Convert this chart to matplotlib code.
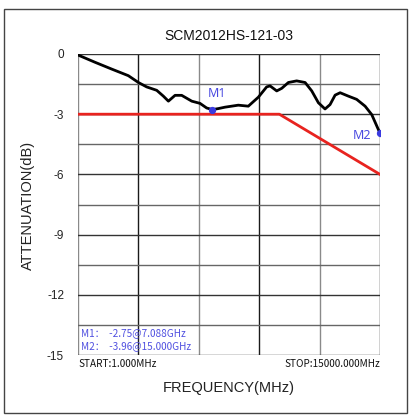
import matplotlib
matplotlib.use("Agg")
import matplotlib.pyplot as plt
from matplotlib.patches import Rectangle

plt.rcParams['font.family'] = ['Liberation Sans', 'DejaVu Sans']

title = "SCM2012HS-121-03"
freq_ghz = [0.0, 0.84, 1.67, 2.5, 3.0, 3.41, 3.91, 4.24, 4.49, 4.82, 5.15, 5.65, 6.06, 6.39,
            6.67, 6.97, 7.3, 7.96, 8.46, 8.96, 9.37, 9.54, 9.87, 10.12, 10.45, 10.86, 11.28,
            11.61, 11.94, 12.27, 12.52, 12.77, 13.02, 13.43, 13.84, 14.26, 14.59, 15.0]
atten_db = [-0.05, -0.41, -0.75, -1.08, -1.42, -1.64, -1.81, -2.1, -2.35, -2.06, -2.06, -2.35,
            -2.46, -2.69, -2.77, -2.72, -2.65, -2.55, -2.6, -2.15, -1.64, -1.59, -1.84, -1.71,
            -1.42, -1.34, -1.42, -1.84, -2.43, -2.74, -2.52, -2.05, -1.93, -2.1, -2.26, -2.6,
            -3.02, -3.95]
limit_freq = [0.0, 10.0, 15.0]
limit_db = [-3.0, -3.0, -6.0]
marker_names = ["M1", "M2"]
marker_freq = [6.67, 15.0]
marker_db = [-2.77, -3.96]
marker_text = ["M1：  -2.75@7.088GHz", "M2：  -3.96@15.000GHz"]
yticks = [0, -3, -6, -9, -12, -15]

fig = plt.figure(figsize=(4.12, 4.18), dpi=100)
fig.patches.append(Rectangle((4/412, 1-413/418), 403/412, 404/418, transform=fig.transFigure,
                             fill=False, edgecolor='#444444', linewidth=1.0))
ax = fig.add_axes([78/412, 1-355/418, 302/412, 301/418])
ax.set_xlim(0, 15)
ax.set_ylim(-15, 0)

for i, gx in enumerate([0, 3, 6, 9, 12, 15]):
    ax.axvline(gx, color='#8a8a8a' if i % 2 == 0 else '#1a1a1a', lw=1.0, zorder=1)
for i in range(11):
    gy = -1.5 * i
    ax.axhline(gy, color='#333333' if i % 2 == 0 else '#666666', lw=1.0, zorder=1)
for s in ax.spines.values():
    s.set_visible(False)

ax.plot(limit_freq, limit_db, color='#e8231f', lw=2.0, zorder=3)
ax.plot(freq_ghz, atten_db, color='black', lw=2.0, zorder=4, solid_capstyle='round',
        solid_joinstyle='round')
ax.scatter(marker_freq, marker_db, color='#3a3ae0', s=18, zorder=5)
ax.text(6.9, -2.3, marker_names[0], color='#4a4ae0', fontsize=9, ha='center', va='bottom',
        family=['Noto Sans', 'DejaVu Sans'], zorder=6)
ax.text(14.1, -4.05, marker_names[1], color='#4a4ae0', fontsize=9, ha='center', va='center',
        family=['Noto Sans', 'DejaVu Sans'], zorder=6)
for j, t in enumerate(marker_text):
    ax.text(0.17, -13.9 - 0.65 * j, t, color='#5050e0', fontsize=7.2, ha='left', va='center',
            family=['Noto Sans CJK SC', 'DejaVu Sans'], zorder=6)

ax.set_yticks(yticks)
ax.set_yticklabels([str(v) for v in yticks], fontsize=8.5, color='#222222')
ax.set_xticks([])
ax.tick_params(axis='y', length=0, pad=10)

ax.text(0, -15.45, "START:1.000MHz", fontsize=7.2, ha='left', va='center', color='#111111',
        family=['Noto Sans CJK SC', 'DejaVu Sans'])
ax.text(15, -15.45, "STOP:15000.000MHz", fontsize=7.2, ha='right', va='center', color='#111111',
        family=['Noto Sans CJK SC', 'DejaVu Sans'])

fig.text(229/412, 1-36/418, title, fontsize=10, ha='center', va='center', color='#111111')
fig.text(229/412, 1-388/418, "FREQUENCY(MHz)", fontsize=10.5, ha='center', va='center', color='#222222')
fig.text(28/412, 1-205/418, "ATTENUATION(dB)", fontsize=10.5, ha='center', va='center',
         rotation=90, color='#222222')

fig.savefig("out.png", dpi=100)
